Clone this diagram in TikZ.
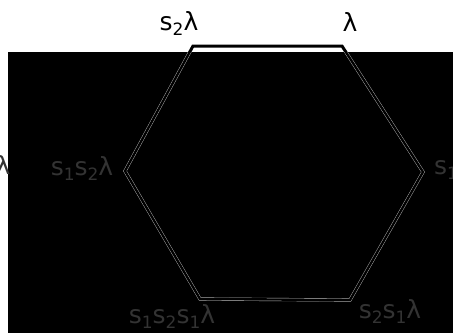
\documentclass[tikz,border=0pt]{standalone}
\usepackage{fontspec}
\setmainfont{DejaVu Sans}
\usepackage{tikz}
\usetikzlibrary{positioning}

\newcommand{\lowsub}[1]{\raisebox{-5pt}{\fontsize{17}{20}\selectfont #1}}

\begin{document}
\begin{tikzpicture}[
      x=1pt, y=-1pt,
      lbl/.style={inner sep=0pt, font=\fontsize{25}{30}\selectfont},
      dim/.style={lbl, text=black!80},
      edge/.style={line width=3pt, line join=miter},
      ghost/.style={draw=gray!50, line width=0.4pt, double=black, double distance=2.4pt}
    ]
    \useasboundingbox (0,0) rectangle (453,333);
    \fill[black] (8,52) rectangle (453,333);
    % vertices of the hexagon
    \coordinate (v0) at (342,46);
    \coordinate (v1) at (193,46);
    \coordinate (v2) at (125,171);
    \coordinate (v3) at (200,299);
    \coordinate (v4) at (350,300);
    \coordinate (v5) at (423,172);
    \draw[edge] (v0) -- (v1) -- (v2) -- (v3) -- (v4) -- (v5) -- cycle;
    \begin{scope}
      \clip (8,52) rectangle (453,333);
      \draw[ghost] (v0) -- (v1) -- (v2) -- (v3) -- (v4) -- (v5) -- cycle;
    \end{scope}
    % orbit labels
    \node[lbl] (lam) at (350,22) {λ};
    \node[lbl] (slam) at (179,23) {s\lowsub{2}λ};
    \node[dim] (tslam) at (82,168) {s\lowsub{1}s\lowsub{2}λ};
    \node[dim] (lamleft) at (3,165) {λ};
    \node[dim] (sright) at (446,170) {s\lowsub{1}};
    \node[dim] (longlam) at (172,316) {s\lowsub{1}s\lowsub{2}s\lowsub{1}λ};
    \node[dim] (rlam) at (390,311) {s\lowsub{2}s\lowsub{1}λ};
  \end{tikzpicture}
\end{document}
